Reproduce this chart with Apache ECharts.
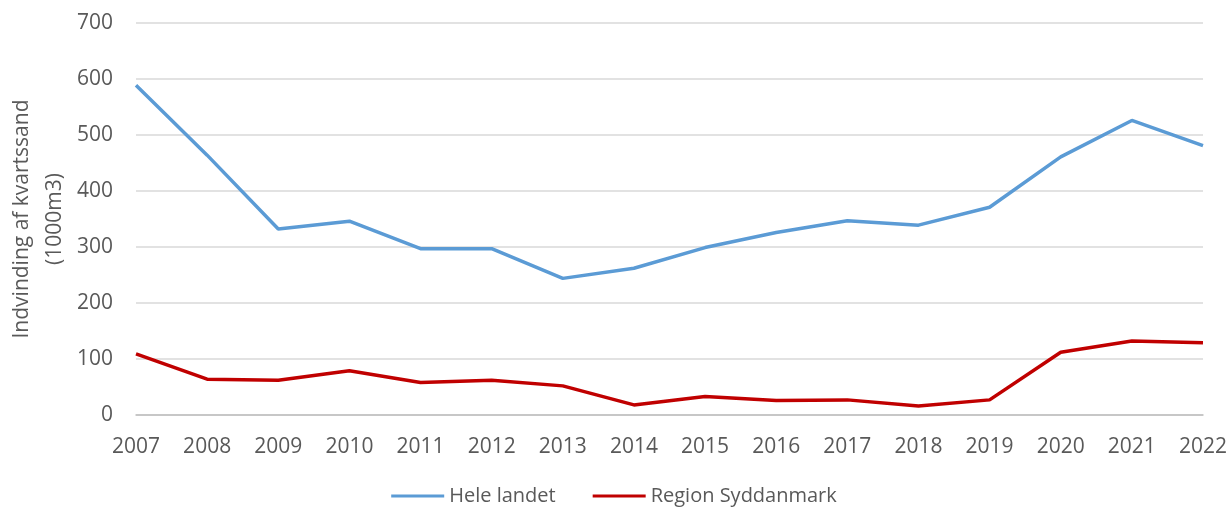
<!DOCTYPE html>
<html lang="da">
<head>
	<meta charset="UTF-8">
	<title>Indvinding af kvartssand</title>
</head>
<style>
	html, body { margin: 0; padding: 0; background: #fff; }
	#main { width: 1228px; height: 510px; }
</style>
<body>
	<div id="main"></div>
	<script src="https://cdn.jsdelivr.net/npm/echarts@6/dist/echarts.min.js"></script>
	<script>
		// data
		var years = ['2007','2008','2009','2010','2011','2012','2013','2014','2015','2016','2017','2018','2019','2020','2021','2022'];
		var heleLandet = [589, 464, 332, 346, 297, 297, 244, 262, 299, 326, 347, 339, 371, 461, 526, 481];
		var syddanmark = [109, 64, 62, 79, 58, 62, 52, 18, 33, 26, 27, 16, 27, 112, 132, 129];
		var seriesNames = ['Hele landet', 'Region Syddanmark'];

		var font = 'Open Sans';
		var txt = '#595959';

		var myChart = echarts.init(document.getElementById('main'));
		var option = {
			animation: false,
			grid: {
				left: 136,
				right: 25,
				top: 23,
				bottom: 95,
				outerBoundsMode: 'none'
			},
			legend: {
				top: 481,
				left: 'center',
				itemWidth: 53,
				itemHeight: 3,
				itemGap: 37,
				icon: 'rect',
				textStyle: { color: txt, fontSize: 20, fontFamily: font },
				data: seriesNames
			},
			xAxis: {
				type: 'category',
				boundaryGap: false,
				data: years,
				axisLine: { lineStyle: { color: '#BFBFBF', width: 1.5 } },
				axisTick: { show: false },
				axisLabel: { color: txt, fontSize: 21, fontFamily: font, margin: 22, interval: 0 }
			},
			yAxis: {
				type: 'value',
				min: 0,
				max: 700,
				interval: 100,
				name: 'Indvinding af kvartssand\n(1000m3)',
				nameLocation: 'middle',
				nameGap: 64,
				nameMoveOverlap: false,
				nameTextStyle: { color: txt, fontSize: 21, fontFamily: font, lineHeight: 33 },
				axisLine: { show: false },
				axisTick: { show: false },
				axisLabel: { color: txt, fontSize: 21, fontFamily: font, margin: 23 },
				splitLine: { lineStyle: { color: '#D9D9D9', width: 1.5 } }
			},
			series: [
				{
					name: seriesNames[0],
					type: 'line',
					data: heleLandet,
					symbol: 'none',
					lineStyle: { color: '#5B9BD5', width: 3.5 },
					itemStyle: { color: '#5B9BD5' }
				},
				{
					name: seriesNames[1],
					type: 'line',
					data: syddanmark,
					symbol: 'none',
					lineStyle: { color: '#C00000', width: 3.5 },
					itemStyle: { color: '#C00000' }
				}
			]
		};
		myChart.setOption(option);
	</script>
</body>
</html>
